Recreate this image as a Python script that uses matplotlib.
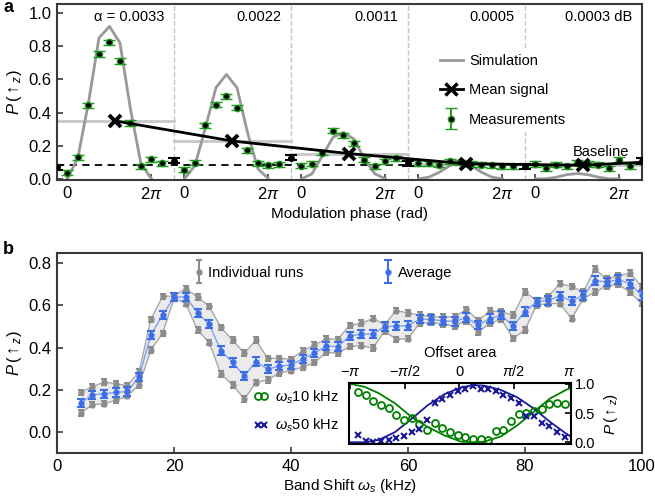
import numpy as np
import matplotlib
matplotlib.use('Agg')
import matplotlib.pyplot as plt
from matplotlib.lines import Line2D
from matplotlib.container import ErrorbarContainer
from matplotlib.legend_handler import HandlerErrorbar

plt.rcParams['font.family'] = ['Liberation Sans', 'DejaVu Sans']
plt.rcParams['mathtext.fontset'] = 'custom'
plt.rcParams['mathtext.rm'] = 'Liberation Sans'
plt.rcParams['mathtext.it'] = 'Liberation Sans:italic'
plt.rcParams['mathtext.bf'] = 'Liberation Sans:bold'
plt.rcParams['font.size'] = 10.5

# ---------------- panel a data ----------------
block_labels = ['α = 0.0033', '0.0022', '0.0011', '0.0005', '0.0003 dB']
meas_phase = np.arange(10) * np.pi / 4      # measured phases 0 .. 9pi/4
sim_phase = np.arange(9) * np.pi / 4        # simulation 0 .. 2pi

meas_1 = [0.036, 0.13, 0.444, 0.753, 0.824, 0.711, 0.337, 0.076, 0.117, 0.093]
meas_2 = [0.056, 0.097, 0.323, 0.448, 0.497, 0.43, 0.171, 0.093, 0.082, 0.087]
meas_3 = [0.08, 0.091, 0.157, 0.291, 0.262, 0.214, 0.116, 0.075, 0.106, 0.123]
meas_4 = [0.095, 0.093, 0.085, 0.105, 0.10, 0.09, 0.085, 0.081, 0.075, 0.075]
meas_5 = [0.09, 0.064, 0.085, 0.075, 0.097, 0.09, 0.085, 0.064, 0.115, 0.075]

sim_1 = [0.0, 0.13, 0.46, 0.85, 0.92, 0.82, 0.42, 0.09, 0.0]
sim_2 = [0.0, 0.08, 0.31, 0.55, 0.63, 0.55, 0.28, 0.06, 0.0]
sim_3 = [0.0, 0.03, 0.14, 0.25, 0.28, 0.24, 0.12, 0.03, 0.0]
sim_4 = [0.0, 0.01, 0.04, 0.08, 0.095, 0.08, 0.04, 0.01, 0.0]
sim_5 = [0.0, 0.0, 0.01, 0.025, 0.032, 0.025, 0.01, 0.0, 0.0]

baseline_pts = [0.07, 0.109, 0.128, 0.093, 0.075, 0.108]
mean_signal = [0.349, 0.228, 0.152, 0.091, 0.082]
mean_end = 0.10
baseline_level = 0.083

# ---------------- panel b data ----------------
shift = np.arange(4, 101, 2)
run_high = [0.188, 0.216, 0.237, 0.229, 0.221, 0.287, 0.534, 0.643, 0.645, 0.68,
            0.64, 0.596, 0.496, 0.436, 0.374, 0.436, 0.35, 0.35, 0.345, 0.386,
            0.413, 0.442, 0.44, 0.506, 0.516, 0.538, 0.51, 0.576, 0.565, 0.554,
            0.546, 0.546, 0.546, 0.581, 0.53, 0.573, 0.57, 0.554, 0.664, 0.624,
            0.643, 0.703, 0.69, 0.664, 0.773, 0.725, 0.742, 0.753, 0.69]
run_avg = [0.138, 0.177, 0.182, 0.188, 0.193, 0.261, 0.46, 0.554, 0.64, 0.64,
           0.565, 0.511, 0.386, 0.33, 0.267, 0.334, 0.298, 0.313, 0.318, 0.347,
           0.375, 0.408, 0.405, 0.455, 0.465, 0.465, 0.5, 0.502, 0.505, 0.535,
           0.534, 0.527, 0.525, 0.543, 0.507, 0.538, 0.554, 0.502, 0.571, 0.617,
           0.624, 0.645, 0.622, 0.648, 0.718, 0.711, 0.722, 0.703, 0.648]
run_low = [0.091, 0.13, 0.135, 0.151, 0.173, 0.224, 0.389, 0.468, 0.635, 0.609,
           0.483, 0.424, 0.275, 0.224, 0.157, 0.235, 0.248, 0.28, 0.292, 0.308,
           0.33, 0.378, 0.374, 0.406, 0.41, 0.398, 0.478, 0.44, 0.443, 0.516,
           0.52, 0.512, 0.502, 0.527, 0.475, 0.515, 0.534, 0.444, 0.483, 0.601,
           0.609, 0.609, 0.538, 0.632, 0.664, 0.692, 0.70, 0.662, 0.609]

# ---------------- inset data ----------------
offset_pts = np.linspace(-0.93, 0.965, 28) * np.pi
p_10khz = [0.867, 0.809, 0.70, 0.642, 0.592, 0.475, 0.382, 0.419, 0.309, 0.203,
           0.33, 0.25, 0.18, 0.13, 0.093, 0.063, 0.049, 0.038, 0.188, 0.203,
           0.367, 0.492, 0.51, 0.543, 0.57, 0.65, 0.665, 0.662]
p_50khz = [0.116, 0.029, 0.012, 0.029, 0.044, 0.072, 0.108, 0.168, 0.225, 0.388,
           0.676, 0.745, 0.815, 0.881, 0.913, 0.965, 0.919, 0.907, 0.884, 0.815,
           0.757, 0.676, 0.445, 0.456, 0.33, 0.275, 0.174, 0.084]
curve_x = np.array([-1.0, -0.87, -0.74, -0.59, -0.44, -0.29, -0.136, 0.015, 0.136,
                    0.227, 0.38, 0.53, 0.68, 0.83, 0.98, 1.02]) * np.pi
curve_10khz = [1.0, 0.95, 0.84, 0.665, 0.435, 0.26, 0.116, 0.01, 0.0, 0.01, 0.1,
               0.29, 0.52, 0.75, 0.9, 0.93]
curve_50khz = [0.0, 0.0, 0.04, 0.175, 0.40, 0.636, 0.826, 0.94, 0.98, 0.97, 0.896,
               0.77, 0.58, 0.35, 0.145, 0.1]

GREEN = '#1f9a1f'
SPINE = '#3a3a3a'
ylab = r'$P\,(\uparrow_z)$'

fig = plt.figure(figsize=(6.55, 4.99), dpi=100)

# ================= panel a =================
ax = fig.add_axes([0.087, 0.639, 0.893, 0.353])
SEG_W = 8.75
x0 = -np.pi / 4
meas_all = [meas_1, meas_2, meas_3, meas_4, meas_5]
sim_all = [sim_1, sim_2, sim_3, sim_4, sim_5]

for s in range(1, 5):
    ax.axvline(s * SEG_W + x0, color='#c4c4c4', ls='--', lw=1, zorder=0)
ax.axhline(baseline_level, color='k', ls='--', lw=1.3, dashes=(4, 3), zorder=1)

xticks, xticklabels = [], []
for s in range(5):
    off = s * SEG_W
    ax.plot([off + x0, off + x0 + SEG_W], [mean_signal[s]] * 2, color='#c8c8c8', lw=2, zorder=1)
    ax.plot(off + sim_phase, sim_all[s], color='#999999', lw=2, zorder=2)
    meas_h = ax.errorbar(off + meas_phase, meas_all[s], yerr=0.016, fmt='o', ms=4.5,
                         mfc='k', mec=GREEN, mew=1, ecolor=GREEN, elinewidth=1.5,
                         capsize=4, capthick=1.5, zorder=4)
    ax.text(off + x0 + SEG_W - 0.75, 0.978, block_labels[s], ha='right', va='center', fontsize=10.5)
    xticks += [off, off + 2 * np.pi]
    xticklabels += ['0', r'$2\pi$']

bx = np.arange(6) * SEG_W + x0
ax.errorbar(bx, baseline_pts, yerr=0.016, fmt='o', ms=4, color='k', elinewidth=1.5,
            capsize=4, capthick=1.5, zorder=4)
mx = np.arange(5) * SEG_W + x0 + SEG_W / 2
ax.plot(list(mx) + [5 * SEG_W + x0], mean_signal + [mean_end], color='k', lw=2, zorder=5)
ax.plot(mx, mean_signal, 'x', color='k', ms=9, mew=2.8, zorder=6)
ax.text(4 * SEG_W + 2.8, 0.162, 'Baseline', ha='left', va='center', fontsize=10.5)

ax.set_xlim(x0, 5 * SEG_W + x0)
ax.set_ylim(-0.008, 1.055)
ax.set_xticks(xticks)
ax.set_xticklabels(xticklabels)
ax.set_yticks([0.0, 0.2, 0.4, 0.6, 0.8, 1.0])
ax.set_yticklabels(['0.0', '0.2', '0.4', '0.6', '0.8', '1.0'])
ax.set_xlabel('Modulation phase (rad)', fontsize=11)
ax.set_ylabel(ylab, fontsize=12, labelpad=3)

sim_h = Line2D([], [], color='#999999', lw=2)
mean_h = Line2D([], [], color='k', lw=2, marker='x', ms=8, mew=2.5)
leg = ax.legend([sim_h, mean_h, meas_h], ['Simulation', 'Mean signal', 'Measurements'],
                loc='center left', bbox_to_anchor=(0.632, 0.51), frameon=True,
                fancybox=False, framealpha=1, edgecolor='none', fontsize=10.5,
                handlelength=1.6, handletextpad=0.4, labelspacing=1.05,
                handler_map={ErrorbarContainer: HandlerErrorbar(yerr_size=0.75)})

# ================= panel b =================
axb = fig.add_axes([0.0875, 0.0916, 0.8922, 0.402])
axb.fill_between(shift, run_low, run_high, color='#ebebeb', lw=0, zorder=0)
axb.plot(shift, run_high, color='#a8a8a8', lw=1, zorder=1)
axb.plot(shift, run_low, color='#a8a8a8', lw=1, zorder=1)
runs_h = axb.errorbar(shift, run_high, yerr=0.013, fmt='o', ms=3.5, color='#8c8c8c',
                      elinewidth=1.5, capsize=2.5, capthick=1.5, zorder=2)
axb.errorbar(shift, run_low, yerr=0.013, fmt='o', ms=3.5, color='#8c8c8c',
             elinewidth=1.5, capsize=2.5, capthick=1.5, zorder=2)
axb.plot(shift, run_avg, color='#7f9ff0', lw=1, zorder=3)
avg_h = axb.errorbar(shift, run_avg, yerr=0.02, fmt='o', ms=3.5, color='#3c6ee6',
                     elinewidth=1.5, capsize=3, capthick=1.5, zorder=4)
axb.set_xlim(0, 100)
axb.set_ylim(-0.1, 0.85)
axb.set_xticks([0, 20, 40, 60, 80, 100])
axb.set_yticks([0.0, 0.2, 0.4, 0.6, 0.8])
axb.set_yticklabels(['0.0', '0.2', '0.4', '0.6', '0.8'])
axb.set_xlabel(r'Band Shift $\omega_s$ (kHz)', fontsize=11, labelpad=2)
axb.set_ylabel(ylab, fontsize=12, labelpad=3)

leg_b = axb.legend([runs_h, avg_h], ['Individual runs', 'Average'], ncol=2,
                   loc='center left', bbox_to_anchor=(0.212, 0.9), frameon=False,
                   fontsize=10.5, handlelength=0.6, handletextpad=0.35, columnspacing=5.5,
                   handler_map={ErrorbarContainer: HandlerErrorbar(yerr_size=0.8)})
axb.add_artist(leg_b)
h10 = Line2D([], [], ls='none', marker='o', mfc='none', mec='green', ms=5, mew=1.3)
h50 = Line2D([], [], ls='none', marker='x', color='#1a1a99', ms=5, mew=1.5)
axb.legend([h10, h50], [r'$\omega_s$10 kHz', r'$\omega_s$50 kHz'], numpoints=2,
           loc='center left', bbox_to_anchor=(0.313, 0.21), frameon=False, fontsize=10.5,
           handlelength=1.0, handletextpad=0.5, labelspacing=0.75)

for a in (ax, axb):
    for sp in a.spines.values():
        sp.set_color(SPINE)
        sp.set_linewidth(1.5)
    a.tick_params(direction='in', length=4, width=1.2, color=SPINE, labelsize=12, pad=4)

# ================= inset =================
axi = fig.add_axes([0.5333, 0.1102, 0.338, 0.1216])
axi.plot(curve_x, curve_10khz, color='green', lw=1.3)
axi.plot(curve_x, curve_50khz, color='#1a1a99', lw=1.3)
axi.plot(offset_pts, p_10khz, 'o', mfc='none', mec='green', ms=5, mew=1.3)
axi.plot(offset_pts, p_50khz, 'x', color='#1a1a99', ms=5, mew=1.5)
axi.set_xlim(-1.01 * np.pi, 1.02 * np.pi)
axi.set_ylim(-0.03, 1.01)
axi.xaxis.tick_top()
axi.xaxis.set_label_position('top')
axi.set_xticks([-np.pi, -np.pi / 2, 0, np.pi / 2, np.pi])
axi.set_xticklabels([r'$-\pi$', r'$-\pi/2$', '0', r'$\pi/2$', r'$\pi$'])
axi.yaxis.tick_right()
axi.yaxis.set_label_position('right')
axi.set_yticks([0.0, 0.5, 1.0])
axi.set_yticklabels(['0.0', '0.5', '1.0'])
axi.set_xlabel('Offset area', fontsize=10.5, labelpad=5)
axi.set_ylabel(ylab, fontsize=11, labelpad=5)
axi.tick_params(direction='in', length=4, width=1.2, labelsize=10.5, pad=3)
for sp in axi.spines.values():
    sp.set_linewidth(1.5)
    sp.set_color('k')

fig.text(0.005, 0.985, 'a', fontsize=13, fontweight='bold', va='center')
fig.text(0.005, 0.5, 'b', fontsize=13, fontweight='bold', va='center')

fig.savefig('out.png', dpi=100)
